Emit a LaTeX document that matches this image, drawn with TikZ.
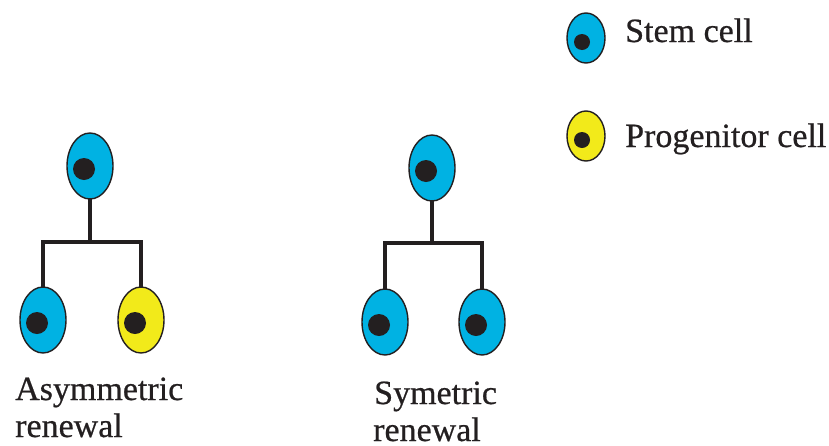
\documentclass[tikz,border=0pt]{standalone}
\usepackage{fontspec}
\setmainfont{Liberation Serif}
\newfontfamily\labelfont{Liberation Serif}[UprightFeatures={FakeBold=0.6}]
\usetikzlibrary{shapes.geometric}

\definecolor{stemblue}{HTML}{00B2E3}
\definecolor{proyellow}{HTML}{F2EA1A}
\definecolor{inkdark}{HTML}{231F20}

\tikzset{
  x=1pt, y=-1pt,
  cellbody/.style={ellipse, draw=inkdark, line width=1.4pt, inner sep=0pt,
    minimum width=46pt, minimum height=66pt},
  bigcell/.style={cellbody,
    path picture={\fill[inkdark] ([xshift=-6pt,yshift=-3pt]path picture bounding box.center) circle (11pt);}},
  smallcell/.style={cellbody, minimum width=38pt, minimum height=50pt,
    path picture={\fill[inkdark] ([xshift=-4pt,yshift=-4pt]path picture bounding box.center) circle (8pt);}},
  stem/.style={fill=stemblue},
  prog/.style={fill=proyellow},
  branch/.style={draw=inkdark, line width=3.5pt, line cap=rect, line join=miter},
  caption/.style={inner sep=0pt, anchor=base west, font=\labelfont\fontsize{34}{39}\selectfont, text=inkdark}
}

\begin{document}
\begin{tikzpicture}
\useasboundingbox (0,0) rectangle (829,445);

% asymmetric division
\node[bigcell, stem] (at) at (90,166) {};
\node[bigcell, stem] (al) at (43,320) {};
\node[bigcell, prog] (ar) at (141,320) {};
\coordinate (abar) at (90,242);
\draw[branch] (at.south) -- (abar);
\draw[branch] (al.north) -- (al.north |- abar) -- (ar.north |- abar) -- (ar.north);

% symmetric division
\node[bigcell, stem] (st) at (432,168) {};
\node[bigcell, stem] (sl) at (385,322) {};
\node[bigcell, stem] (sr) at (482,322) {};
\coordinate (sbar) at (432,243);
\draw[branch] (st.south) -- (sbar);
\draw[branch] (sl.north) -- (sl.north |- sbar) -- (sr.north |- sbar) -- (sr.north);

% captions
\node[caption] (acap1) at (15,400) {Asymmetric};
\node[caption] (acap2) at (15,437) {renewal};
\node[caption] (scap1) at (374,404) {Symetric};
\node[caption] (scap2) at (373,441) {renewal};

% legend
\node[smallcell, stem] (lstem) at (586,38) {};
\node[caption] (lstemtxt) at (625,42) {Stem cell};
\node[smallcell, prog] (lprog) at (586,136) {};
\node[caption] (lprogtxt) at (625,147) {Progenitor cell};
\end{tikzpicture}
\end{document}
